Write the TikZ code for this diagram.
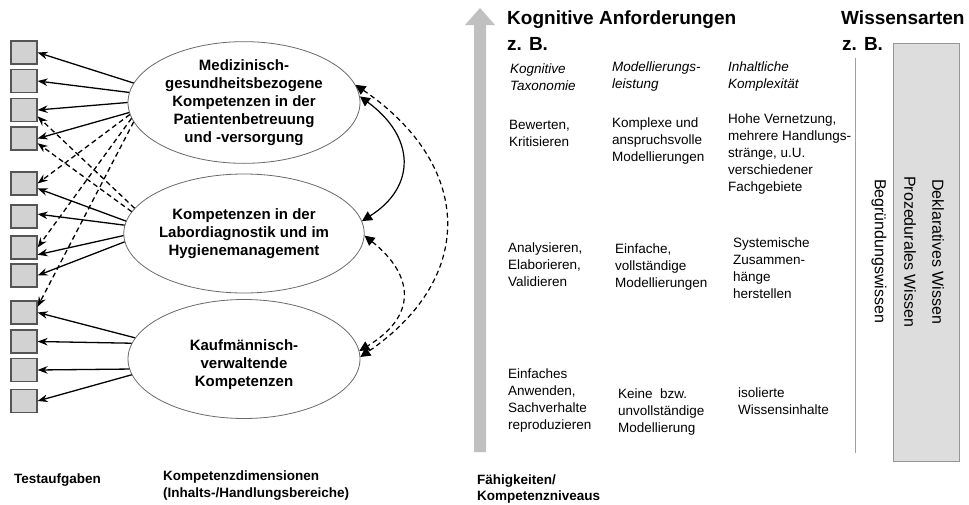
\documentclass[tikz,border=0pt]{standalone}
\usepackage{fontspec}
\setmainfont{Liberation Sans}
\usetikzlibrary{arrows.meta,shapes.geometric}
\definecolor{boxgray}{RGB}{210,210,210}
\definecolor{boxedge}{RGB}{85,85,85}
\definecolor{ellipseedge}{RGB}{105,105,105}
\definecolor{arrowgray}{RGB}{192,192,192}
\definecolor{wissengray}{RGB}{221,221,221}
\definecolor{wissenedge}{RGB}{150,150,150}
\definecolor{linegray}{RGB}{160,160,160}
\begin{document}
\begin{tikzpicture}[x=1pt,y=-1pt,
  task/.style={draw=boxedge, fill=boxgray, line width=1.2pt, minimum width=26pt, minimum height=23pt, inner sep=0pt},
  dim/.style={ellipse, draw=ellipseedge, line width=0.8pt, minimum width=232pt, minimum height=119pt, inner sep=0pt, align=center, font=\fontsize{15}{18}\selectfont\bfseries},
  dimtext/.style={inner sep=0pt, align=center, font=\fontsize{15}{18}\selectfont\bfseries},
  load/.style={-{Stealth[length=10pt,width=7.5pt]}, line width=1.3pt},
  crossload/.style={load, dash pattern=on 5pt off 3.5pt},
  corr/.style={{Triangle[length=10pt,width=10pt]}-{Triangle[length=10pt,width=10pt]}, line width=1.2pt},
  dashcorr/.style={corr, dash pattern=on 5pt off 3.5pt},
  heading/.style={anchor=base west, inner sep=0pt, font=\fontsize{19}{22}\selectfont\bfseries},
  cell/.style={anchor=north west, inner sep=0pt, align=left, font=\fontsize{13.5}{17}\selectfont},
  colhead/.style={cell, font=\fontsize{13.5}{17}\selectfont\itshape},
  footer/.style={anchor=north west, inner sep=0pt, align=left, font=\fontsize{13.5}{16.5}\selectfont\bfseries},
  knowledge/.style={rotate=-90, anchor=west, inner sep=0pt, font=\fontsize{16}{19}\selectfont},
]
\useasboundingbox (0,0) rectangle (969,504);

% test items
\foreach \i/\y in {1/52.5,2/81,3/110,4/138.5,5/183.5,6/216.5,7/247.5,8/275.5,9/312.5,10/341.5,11/370,12/401}
  \node[task] (b\i) at (24,\y) {};

% competence dimensions
\node[dim] (e1) at (244,102.5) {Medizinisch-\\gesundheitsbezogene\\Kompetenzen in der\\Patientenbetreuung\\und -versorgung};
\node[dim] (e2) at (244,233.5) {Kompetenzen in der\\Labordiagnostik und im\\Hygienemanagement};
\node[dim] (e3) at (244,359) {};
\node[dimtext] (e3t) at (244,365) {Kaufmännisch-\\verwaltende\\Kompetenzen};

% loadings
\draw[load] (e1.170) -- (b1.east);
\draw[load] (e1.175) -- (b2.east);
\draw[load] (e1.180) -- (b3.east);
\draw[load] (e1.185) -- (b4.east);
\draw[crossload] (e1.186) -- (b5.east);
\draw[crossload] (e1.188) -- (b7.east);
\draw[crossload] (e1.190) -- (b9.23);

\draw[crossload] (e2.167) -- (b3.-25);
\draw[crossload] (e2.169) -- (b4.-19);
\draw[load] (e2.174) -- (b5.-20);
\draw[load] (e2.176) -- (b6.10);
\draw[load] (e2.181) -- (b7.-28);
\draw[load] (e2.184) -- (b8.east);

\draw[load] (e3.169) -- (b9.east);
\draw[load] (e3.172) -- (b10.east);
\draw[load] (e3.185) -- (b11.east);
\draw[load] (e3.188) -- (b12.east);

% correlations
\draw[corr] (e1.3) .. controls +(55,40) and +(55,-35) .. (e2.6);
\draw[dashcorr] (e1.9) .. controls +(117,80) and +(117,-80) .. (e3.1);
\draw[dashcorr] (e2.-1) .. controls +(50,40) and +(58,-35) .. (e3.4);

% levels arrow
\fill[arrowgray] (474,452) -- (474,25) -- (465,25) -- (480,8) -- (495,25) -- (486,25) -- (486,452) -- cycle;

\node[heading] (kh) at (507,24) {Kognitive Anforderungen};
\node[heading] (kz) at (507,50) {z. B.};
\node[heading] (wh) at (841,24) {Wissensarten};
\node[heading] (wz) at (842,50) {z. B.};

\node[colhead] (h1) at (510,63.3) {Kognitive\\Taxonomie};
\node[colhead] (h2) at (612,61.3) {Modellierungs-\\leistung};
\node[colhead] (h3) at (728,61.3) {Inhaltliche\\Komplexität};

\node[cell] (c11) at (509,120.3) {Bewerten,\\Kritisieren};
\node[cell] (c12) at (612,117.3) {Komplexe und\\anspruchsvolle\\Modellierungen};
\node[cell] (c13) at (728,113.3) {Hohe Vernetzung,\\mehrere Handlungs-\\stränge, u.U.\\verschiedener\\Fachgebiete};

\node[cell] (c21) at (508,242.3) {Analysieren,\\Elaborieren,\\Validieren};
\node[cell] (c22) at (615,243.3) {Einfache,\\vollständige\\Modellierungen};
\node[cell] (c23) at (733,237.3) {Systemische\\Zusammen-\\hänge\\herstellen};

\node[cell] (c31) at (508,368.3) {Einfaches\\Anwenden,\\Sachverhalte\\reproduzieren};
\node[cell] (c32) at (618,388.3) {Keine~ bzw.\\unvollständige\\Modellierung};
\node[cell] (c33) at (738,387.3) {isolierte\\Wissensinhalte};

% knowledge types
\draw[linegray, line width=1pt] (855,58) -- (855,453);
\filldraw[fill=wissengray, draw=wissenedge, line width=0.8pt] (893,43) rectangle (959,461);
\node[knowledge] (k1) at (938,179) {Deklaratives Wissen};
\node[knowledge] (k2) at (910,176) {Prozedurales Wissen};
\node[knowledge] (k3) at (879,179) {Begründungswissen};

% footers
\node[footer] (f1) at (14,474) {Testaufgaben};
\node[footer] (f2) at (163,471) {Kompetenzdimensionen\\(Inhalts-/Handlungsbereiche)};
\node[footer] (f3) at (477,474.5) {Fähigkeiten/\\Kompetenzniveaus};
\end{tikzpicture}
\end{document}
